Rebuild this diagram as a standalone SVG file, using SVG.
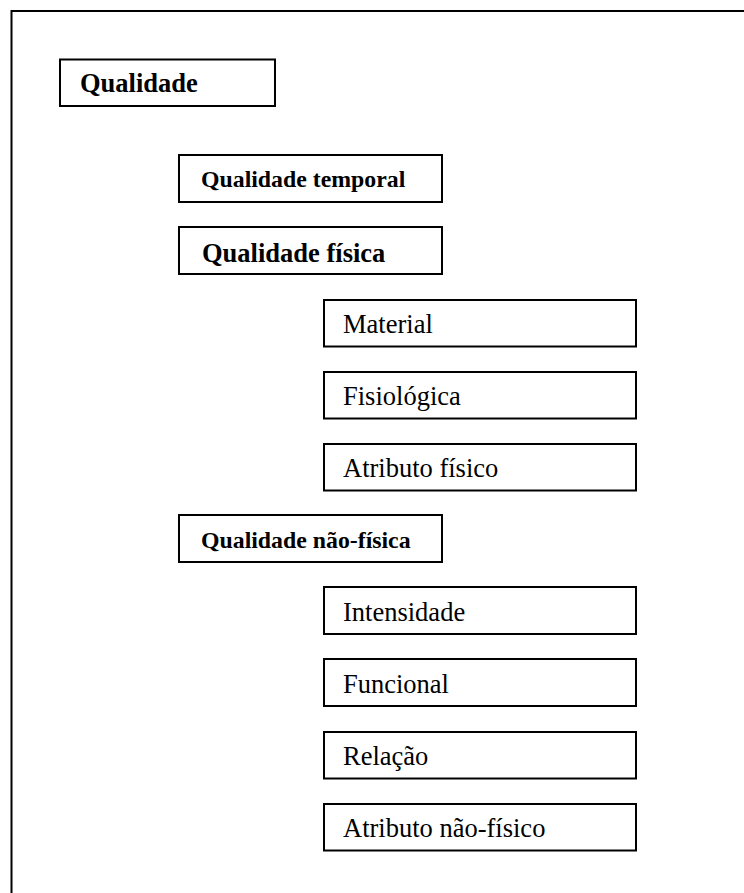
<svg xmlns="http://www.w3.org/2000/svg" width="744" height="893" viewBox="0 0 744 893">
  <style>
    .box { fill: #ffffff; stroke: #000000; stroke-width: 2; }
    .frame { fill: none; stroke: #000000; stroke-width: 2; }
    text { font-family: 'Liberation Serif', 'Times New Roman', Times, serif; fill: #000000; }
    .b { font-weight: bold; }
    .r { font-size: 26.5px; }
    .big { font-size: 26.5px; }
    .mid { font-size: 23.8px; }
  </style>
  <rect x="0" y="0" width="744" height="893" fill="#ffffff"/>

  <!-- outer frame (open to the right and bottom) -->
  <path class="frame" d="M11.5,893 V11 H744"/>

  <g id="qualidade">
    <rect class="box" x="60" y="59.5" width="215" height="46.5"/>
    <text class="b big" x="80" y="92">Qualidade</text>
  </g>

  <g id="qualidade-temporal">
    <rect class="box" x="179" y="155" width="263" height="47"/>
    <text class="b mid" x="201" y="187">Qualidade temporal</text>
  </g>

  <g id="qualidade-fisica">
    <rect class="box" x="179" y="227" width="263" height="47"/>
    <text class="b big" x="202" y="262">Qualidade física</text>
  </g>

  <g id="material">
    <rect class="box" x="324" y="300" width="312" height="46.5"/>
    <text class="r" x="343" y="333">Material</text>
  </g>

  <g id="fisiologica">
    <rect class="box" x="324" y="372" width="312" height="46.5"/>
    <text class="r" x="343" y="405">Fisiológica</text>
  </g>

  <g id="atributo-fisico">
    <rect class="box" x="324" y="444" width="312" height="46.5"/>
    <text class="r" x="343" y="477">Atributo físico</text>
  </g>

  <g id="qualidade-nao-fisica">
    <rect class="box" x="179" y="515" width="263" height="47"/>
    <text class="b mid" x="201" y="548">Qualidade não-física</text>
  </g>

  <g id="intensidade">
    <rect class="box" x="324" y="587" width="312" height="47"/>
    <text class="r" x="343" y="621">Intensidade</text>
  </g>

  <g id="funcional">
    <rect class="box" x="324" y="659" width="312" height="47"/>
    <text class="r" x="343" y="693">Funcional</text>
  </g>

  <g id="relacao">
    <rect class="box" x="324" y="732" width="312" height="46.5"/>
    <text class="r" x="343" y="765">Relação</text>
  </g>

  <g id="atributo-nao-fisico">
    <rect class="box" x="324" y="804" width="312" height="46.5"/>
    <text class="r" x="343" y="837">Atributo não-físico</text>
  </g>
</svg>
